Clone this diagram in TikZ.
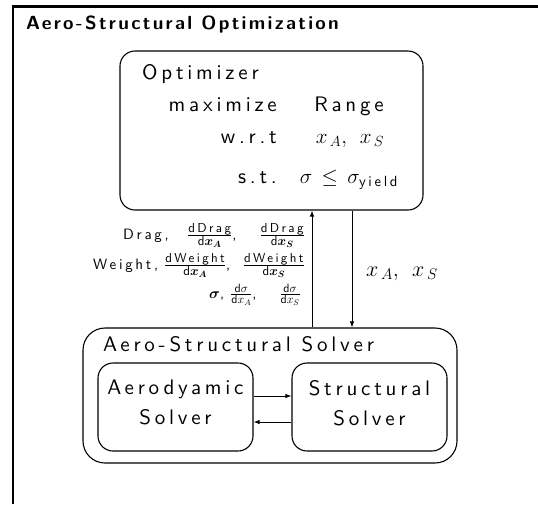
\RequirePackage{fix-cm}
\documentclass[tikz,border=0pt]{standalone}
\usepackage{amsmath}
\usepackage{bm}
\usepackage{fontspec}
\newfontfamily\lms{lmsans10-regular.otf}[LetterSpace=18]
\newfontfamily\lmsb{lmsans10-bold.otf}[LetterSpace=12]
\newcommand\myfr[3]{\frac{\text{\fontsize{#1}{#1}\selectfont #2}}{\text{\fontsize{#1}{#1}\selectfont #3}}}
\usetikzlibrary{arrows.meta}
\tikzset{
  rbox/.style={draw, line width=1.1pt, inner sep=0pt},
  txt/.style={inner sep=0pt, font=\fontsize{21}{30}\selectfont\lms},
  lbl/.style={inner sep=0pt, font=\fontsize{15}{18}\selectfont\lms},
  conn/.style={line width=0.9pt, -{Latex[length=6pt,width=4.5pt]}},
}
\begin{document}
\begin{tikzpicture}[x=1pt,y=-1pt]
\useasboundingbox (0,0) rectangle (538,504);
% outer frame (only top and left visible)
\draw[line width=2.6pt, line join=miter] (12.8,504) -- (12.8,6.5) -- (538,6.5);
\node[inner sep=0pt, anchor=base west, font=\fontsize{19}{22}\selectfont\lmsb] (title) at (26,29) {Aero-Structural Optimization};
% optimizer box
\node[rbox, rounded corners=15pt, minimum width=303pt, minimum height=159pt] (opt) at (271.5,130.5) {};
\node[txt, anchor=base west] (optname) at (142,79) {Optimizer};
\node[txt, anchor=base east] (maxk) at (277,111) {maximize};
\node[txt, anchor=base] (maxv) at (349,111) {Range};
\node[txt, anchor=base east] (wrtk) at (277,143) {w.r.t};
\node[txt, anchor=base] (wrtv) at (350,143) {$x_{\,A},\;\,x_{\,S}$};
\node[txt, anchor=base east] (stk) at (277,183) {s.t.};
\node[txt, anchor=base] (stv) at (349,183) {$\sigma \,\le\, \sigma_{\text{yield}}$};
% solver box
\node[rbox, rounded corners=22pt, minimum width=374pt, minimum height=135pt] (sol) at (270,395.5) {};
\node[txt, anchor=base west] (solname) at (103,351) {Aero-Structural Solver};
\node[rbox, rounded corners=15pt, minimum width=155pt, minimum height=88pt, txt, align=center, text depth=8.6pt] (aero) at (175.5,407) {Aerodyamic\\Solver};
\node[rbox, rounded corners=15pt, minimum width=155pt, minimum height=88pt, txt, align=center, text depth=8.6pt] (struct) at (369.5,407) {Structural\\Solver};
\draw[conn] ([yshift=11pt]aero.east) -- ([yshift=11pt]struct.west);
\draw[conn] ([yshift=-15pt]struct.west) -- ([yshift=-15pt]aero.east);
% connectors between optimizer and solver
\coordinate (upx) at (312,0);
\coordinate (dnx) at (352,0);
\draw[conn] (sol.north -| upx) -- (opt.south -| upx);
\draw[conn] (opt.south -| dnx) -- (sol.north -| dnx);
% labels
\node[lbl, anchor=base west] (l1a) at (123,239.5) {Drag,};
\node[lbl, anchor=base west] (l1b) at (187,239.5) {$\myfr{13}{dDrag}{d$\bm{x}_{\bm{A}}$}$,};
\node[lbl, anchor=base east] (l1c) at (305,239.5) {$\myfr{13}{dDrag}{d$\bm{x}_{\bm{S}}$}$};
\node[lbl, anchor=base west] (l2a) at (93,269.5) {Weight,};
\node[lbl, anchor=base west] (l2b) at (164,269.5) {$\myfr{13}{dWeight}{d$\bm{x}_{\bm{A}}$}$,};
\node[lbl, anchor=base east] (l2c) at (305,269.5) {$\myfr{13}{dWeight}{d$\bm{x}_{\bm{S}}$}$};
\node[lbl, anchor=base west] (l3a) at (209,298) {$\bm{\sigma}$,};
\node[lbl, anchor=base west] (l3b) at (230,298) {$\myfr{12}{d$\sigma$}{d$x_A$}$,};
\node[lbl, anchor=base east] (l3c) at (301,298) {$\myfr{12}{d$\sigma$}{d$x_S$}$};
\node[inner sep=0pt, anchor=base west, font=\fontsize{22}{24}\selectfont\lms] (xlbl) at (366,276) {$x_{\,A},\;\,x_{\,S}$};
\end{tikzpicture}
\end{document}
